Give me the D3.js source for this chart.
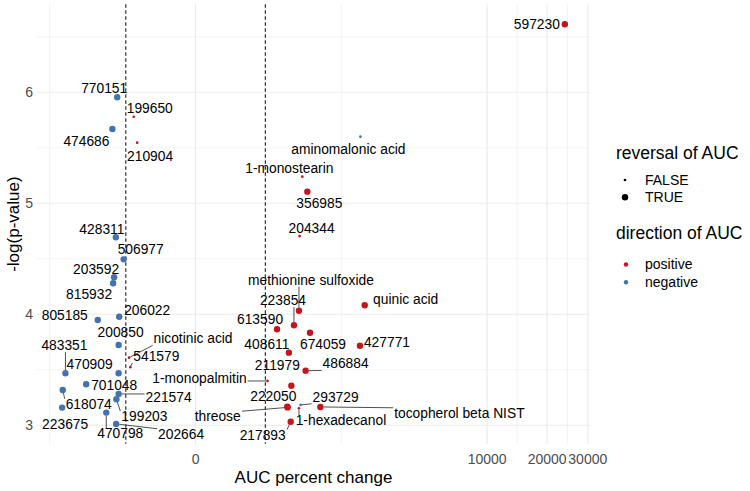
<!DOCTYPE html>
<html><head><meta charset="utf-8">
<script src="https://cdn.jsdelivr.net/npm/d3@7"></script>
<style>body{margin:0;background:#fff} text{font-family:"Liberation Sans",Arial,Helvetica,sans-serif}</style>
</head><body><svg id="c" width="750" height="491"></svg>
<script>
const labels = ["770151","474686","428311","506977","203592","815932","206022","805185","200850","483351",
  "470909","701048","618074","221574","199203","223675","470798","202664","199650","210904",
  "nicotinic acid","541579","methionine sulfoxide","223854","613590","674059","408611","486884","211979","1-monopalmitin",
  "222050","threose","tocopherol beta NIST","293729","1-hexadecanol","217893","quinic acid","427771","aminomalonic acid","1-monostearin",
  "356985","204344","597230"];
const aucChange = [-77,-96,-82,-56,-89,-93,-70,-175,-72,-504,
  -72,-265,-544,-72,-80,-553,-125,-81,-32,-26,
  -42,-39,215,179,89,313,147,271,162,56,
  138,140,432,228,215,158,1331,1198,1210,242,
  287,220,24000];
const negLogP = [5.955,5.669,4.694,4.495,4.333,4.279,3.978,3.949,3.723,3.468,
  3.468,3.369,3.318,3.282,3.234,3.159,3.114,3.012,5.780,5.546,
  3.609,3.523,4.032,3.901,3.865,3.834,3.654,3.492,3.357,3.399,
  3.168,3.161,3.165,3.183,3.153,3.032,4.081,3.717,5.600,5.240,
  5.105,4.705,6.613];
const reversal = [true,true,true,true,true,true,true,true,true,true,
  true,true,true,true,true,true,true,true,false,false,
  false,false,true,true,true,true,true,true,true,false,
  true,true,true,false,false,true,true,true,false,false,
  true,false,true];
const direction = ["negative","negative","negative","negative","negative","negative","negative","negative","negative","negative",
  "negative","negative","negative","negative","negative","negative","negative","negative","positive","positive",
  "positive","positive","positive","positive","positive","positive","positive","positive","positive","positive",
  "positive","positive","positive","negative","positive","positive","positive","positive","negative","positive",
  "positive","positive","positive"];
// repelled label layout: [dx, dy, draw segment]
const labelOffsets = [[-13,-9,0],[-26,12,0],[-14,-8,0],[17,-10,0],[-18,-8,0],[-24,11,0],[28,-7,0],[-33,-5,0],[2,-13,0],[-1,-28,1],
  [-29,-9,0],[28,1,0],[26,14,1],[50,3,1],[28,17,1],[3,17,0],[14,21,1],[65,10,1],[16,-9,0],[13,13,0],
  [64,-19,1],[26,-11,1],[12,-31,1],[-11,-25,1],[-17,-10,1],[13,11,0],[-22,-8,0],[40,-7,1],[-14,-20,0],[-68,-3,1],
  [-14,-10,0],[-70,9,1],[139,6,1],[35,-8,1],[42,12,1],[-28,13,1],[41,-6,0],[27,-4,0],[-12,12,0],[-13,-8,0],
  [12,12,0],[12,-8,0],[-28,0,0]];
const xTicks = [0,10000,20000,30000];
const xTickLabels = ["0","10000","20000","30000"];
const xGridAll = [-10000,0,10000,20000,30000,40000];
const yTicks = [3,4,5,6];
const yGridAll = [2,3,4,5,6,7];
const thresholds = [-50,50];
const sizeLevels = ["FALSE","TRUE"];
const dirLevels = ["positive","negative"];

const colors = {positive:"#C4141C", negative:"#4372B0"};
const W=750,H=491, L=37, R=590, T=4.3, B=443.9;
const svg = d3.select("#c");
const ex = (R-L)*0.05/1.1, ey=(B-T)*0.05/1.1;
const x = d3.scalePow().exponent(0.27).domain(d3.extent(aucChange)).range([L+ex, R-ex]);
const y = d3.scaleLinear().domain(d3.extent(negLogP)).range([B-ey, T+ey]);
const rScale = d3.scaleOrdinal().domain([false,true]).range([1.35,3.2]);

const g = svg.append("g");
// minor grid
const xMinor = [], yMinor=[];
for (let i=0;i<xGridAll.length-1;i++){ const m = x.invert((x(xGridAll[i])+x(xGridAll[i+1]))/2); xMinor.push(m); }
for (let i=0;i<yGridAll.length-1;i++){ yMinor.push((yGridAll[i]+yGridAll[i+1])/2); }
const inX = v => x(v)>=L && x(v)<=R, inY = v => y(v)>=T && y(v)<=B;
g.selectAll(".xm").data(xMinor.filter(inX)).join("line").attr("x1",d=>x(d)).attr("x2",d=>x(d)).attr("y1",T).attr("y2",B).attr("stroke","#ebebeb").attr("stroke-width",0.6);
g.selectAll(".ym").data(yMinor.filter(inY)).join("line").attr("y1",d=>y(d)).attr("y2",d=>y(d)).attr("x1",L).attr("x2",R).attr("stroke","#ebebeb").attr("stroke-width",0.6);
g.selectAll(".xM").data(xTicks.filter(inX)).join("line").attr("x1",d=>x(d)).attr("x2",d=>x(d)).attr("y1",T).attr("y2",B).attr("stroke","#ebebeb").attr("stroke-width",1.1);
g.selectAll(".yM").data(yTicks.filter(inY)).join("line").attr("y1",d=>y(d)).attr("y2",d=>y(d)).attr("x1",L).attr("x2",R).attr("stroke","#ebebeb").attr("stroke-width",1.1);

// threshold lines
g.selectAll(".th").data(thresholds).join("line").attr("x1",d=>x(d)).attr("x2",d=>x(d)).attr("y1",T).attr("y2",B)
 .attr("stroke","#000").attr("stroke-width",1).attr("stroke-dasharray","3.5,2.5");

// axes text
svg.append("g").selectAll("text").data(yTicks).join("text").attr("x",33).attr("y",d=>y(d)).attr("dy","0.35em")
 .attr("text-anchor","end").attr("font-size",14).attr("fill","#4d4d4d").text(d=>d);
svg.append("g").selectAll("text").data(xTicks).join("text").attr("x",d=>x(d)).attr("y",459).attr("dy","0.35em")
 .attr("text-anchor","middle").attr("font-size",14).attr("fill","#4d4d4d").text((d,i)=>xTickLabels[i]);
svg.append("text").attr("x",(L+R)/2).attr("y",477).attr("dy","0.35em").attr("text-anchor","middle").attr("font-size",17).text("AUC percent change");
svg.append("text").attr("transform",`translate(13,${(T+B)/2}) rotate(-90)`).attr("dy","0.35em").attr("text-anchor","middle").attr("font-size",17).text("-log(p-value)");

const data = labels.map((l,i)=>({l, x:aucChange[i], y:negLogP[i], rev:reversal[i], dir:direction[i], off:labelOffsets[i]}));

// points
g.selectAll(".pt").data(data).join("circle").attr("cx",d=>x(d.x)).attr("cy",d=>y(d.y)).attr("r",d=>rScale(d.rev)).attr("fill",d=>colors[d.dir]);

// labels
const segG = g.append("g"), txtG = g.append("g");
data.forEach(d=>{
  const px=x(d.x), py=y(d.y);
  const t = txtG.append("text").attr("x",px+d.off[0]).attr("y",py+d.off[1]).attr("dy","0.35em").attr("text-anchor","middle")
    .attr("font-size",13.8).attr("fill","#000").text(d.l);
  if (d.off[2]) {
    const bb = t.node().getBBox();
    const x0=bb.x-1, x1=bb.x+bb.width+1, y0=bb.y+2, y1=bb.y+bb.height-1;
    const qx = Math.max(x0, Math.min(px,x1)), qy=Math.max(y0, Math.min(py,y1));
    const dist = Math.hypot(qx-px, qy-py);
    if (dist>3) {
      const sx = px + (qx-px)/dist*rScale(d.rev), sy = py + (qy-py)/dist*rScale(d.rev);
      segG.append("line").attr("x1",sx).attr("y1",sy).attr("x2",qx).attr("y2",qy).attr("stroke","#222").attr("stroke-width",0.8);
    }
  }
});

// legend
const lg = svg.append("g");
lg.append("text").attr("x",616).attr("y",152.7).attr("dy","0.35em").attr("font-size",17.5).text("reversal of AUC");
sizeLevels.forEach((s,i)=>{
  lg.append("circle").attr("cx",625).attr("cy",180+i*17.3).attr("r",rScale(s==="TRUE")).attr("fill","#000");
  lg.append("text").attr("x",645).attr("y",180+i*17.3).attr("dy","0.35em").attr("font-size",14).text(s);
});
lg.append("text").attr("x",616).attr("y",233.3).attr("dy","0.35em").attr("font-size",17.5).text("direction of AUC");
dirLevels.forEach((s,i)=>{
  lg.append("circle").attr("cx",626).attr("cy",264.5+i*17.8).attr("r",2.2).attr("fill",colors[s]);
  lg.append("text").attr("x",645).attr("y",264.5+i*17.8).attr("dy","0.35em").attr("font-size",14).text(s);
});
</script></body></html>
